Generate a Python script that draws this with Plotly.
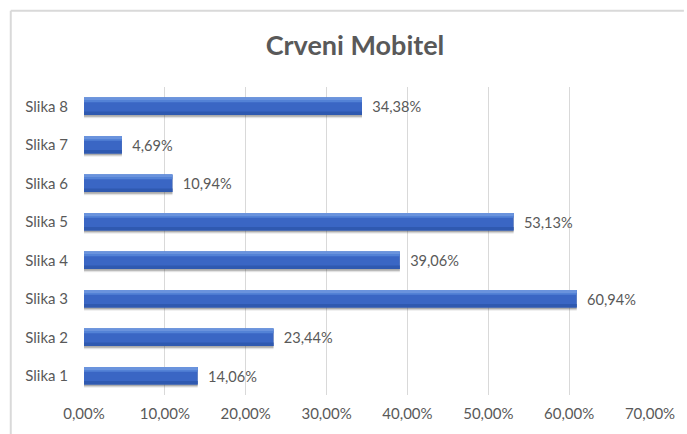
import plotly.graph_objects as go

# Share of responses per image
categories = ["Slika 1", "Slika 2", "Slika 3", "Slika 4", "Slika 5", "Slika 6", "Slika 7", "Slika 8"]
values = [0.1406, 0.2344, 0.6094, 0.3906, 0.5313, 0.1094, 0.0469, 0.3438]
tick_values = [0, 0.1, 0.2, 0.3, 0.4, 0.5, 0.6, 0.7]

W, H = 687, 434
ML, MR, MT, MB = 84, 35, 87, 38
PW, PH = W - ML - MR, H - MT - MB

BAR_W = 0.45
FONT = "Lato"
GREY = "#595959"

fig = go.Figure()

# soft drop shadow under each bar
for dy, alpha in [(0.085, 0.10), (0.06, 0.18), (0.04, 0.22)]:
    fig.add_trace(go.Bar(
        y=categories, x=values, orientation="h",
        width=BAR_W, offset=-BAR_W / 2 - dy,
        marker=dict(color=f"rgba(60,60,60,{alpha})", line=dict(width=0)),
        hoverinfo="skip", showlegend=False,
    ))

# main bar body with value labels
fig.add_trace(go.Bar(
    y=categories, x=values, orientation="h",
    width=BAR_W, offset=-BAR_W / 2,
    marker=dict(color="#3A66C4", line=dict(width=0)),
    texttemplate="\u2002%{x:.2%}", textposition="outside",
    textfont=dict(family=FONT, size=16, color=GREY),
    cliponaxis=False, showlegend=False,
))

# darker lower edge
fig.add_trace(go.Bar(
    y=categories, x=values, orientation="h",
    width=0.09, offset=-BAR_W / 2,
    marker=dict(color="#2F59B0", line=dict(width=0)),
    hoverinfo="skip", showlegend=False,
))

# lighter upper band
fig.add_trace(go.Bar(
    y=categories, x=values, orientation="h",
    width=0.12, offset=BAR_W / 2 - 0.12,
    marker=dict(color="#5382D6", line=dict(width=0)),
    hoverinfo="skip", showlegend=False,
))
fig.add_trace(go.Bar(
    y=categories, x=values, orientation="h",
    width=0.05, offset=BAR_W / 2 - 0.05,
    marker=dict(color="#6A93DD", line=dict(width=0)),
    hoverinfo="skip", showlegend=False,
))


def px_to_paper_x(px):
    return (px - ML) / PW


def px_to_paper_y(py):
    return (H - MB - py) / PH


# chart frame (top and left edges)
frame = dict(type="line", xref="paper", yref="paper", line=dict(color="#D9D9D9", width=2))
fig.add_shape(**frame, x0=px_to_paper_x(10.5), x1=px_to_paper_x(686), y0=px_to_paper_y(10.5), y1=px_to_paper_y(10.5))
fig.add_shape(**frame, x0=px_to_paper_x(10.5), x1=px_to_paper_x(10.5), y0=px_to_paper_y(10.5), y1=px_to_paper_y(440))

fig.update_layout(
    width=W, height=H,
    margin=dict(l=ML, r=MR, t=MT, b=MB),
    paper_bgcolor="white", plot_bgcolor="white",
    barmode="overlay",
    separators=", ",
    title=dict(
        text="<b>Crveni Mobitel</b>",
        x=355 / W, xanchor="center", xref="container",
        y=1 - 46 / H, yanchor="middle", yref="container",
        font=dict(family=FONT, size=27, color=GREY),
    ),
    xaxis=dict(
        range=[0, 0.7], tickvals=tick_values, tickformat=".2%",
        showgrid=True, gridcolor="#D9D9D9", gridwidth=1,
        zeroline=False, showline=False, ticks="",
        ticklabelstandoff=8,
        tickfont=dict(family=FONT, size=15, color=GREY),
        fixedrange=True,
    ),
    yaxis=dict(
        categoryorder="array", categoryarray=categories,
        range=[-0.5, 7.5],
        showgrid=False, zeroline=False, showline=False, ticks="",
        ticklabelstandoff=15,
        tickfont=dict(family=FONT, size=15, color=GREY),
        fixedrange=True,
    ),
    font=dict(family=FONT, color=GREY),
)

fig.write_html("out.html")
